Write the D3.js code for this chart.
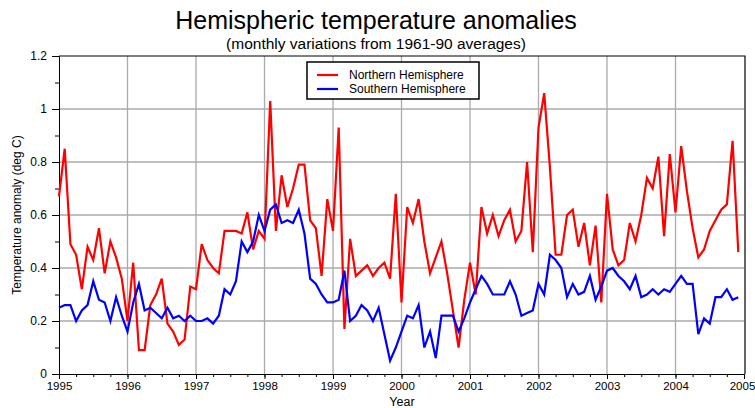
<!DOCTYPE html>
<html>
<head>
<meta charset="utf-8">
<script src="https://cdn.jsdelivr.net/npm/d3@7/dist/d3.min.js"></script>
<style>
  html, body { margin: 0; padding: 0; background: #fff; }
  svg { display: block; font-family: "Liberation Sans", Arial, sans-serif; }
</style>
</head>
<body>
<svg id="chart" width="755" height="408"></svg>
<script>
// Monthly anomalies (deg C, relative to 1961-90), January 1995 onward
const startYear = 1995;

const northern = [
  0.67, 0.85, 0.49, 0.45, 0.32, 0.48, 0.43, 0.55, 0.38, 0.50, 0.44, 0.36, // 1995
  0.20, 0.42, 0.09, 0.09, 0.26, 0.30, 0.36, 0.19, 0.16, 0.11, 0.13, 0.33, // 1996
  0.32, 0.49, 0.43, 0.40, 0.38, 0.54, 0.54, 0.54, 0.53, 0.61, 0.47, 0.54, // 1997
  0.51, 1.03, 0.54, 0.75, 0.63, 0.70, 0.79, 0.79, 0.58, 0.55, 0.37, 0.66, // 1998
  0.54, 0.93, 0.17, 0.51, 0.37, 0.39, 0.41, 0.37, 0.40, 0.42, 0.36, 0.68, // 1999
  0.27, 0.63, 0.57, 0.66, 0.50, 0.38, 0.44, 0.50, 0.38, 0.24, 0.10, 0.28, // 2000
  0.42, 0.30, 0.63, 0.53, 0.60, 0.52, 0.58, 0.62, 0.50, 0.54, 0.80, 0.46, // 2001
  0.93, 1.06, 0.78, 0.45, 0.45, 0.60, 0.62, 0.48, 0.57, 0.41, 0.56, 0.27, // 2002
  0.68, 0.47, 0.41, 0.43, 0.57, 0.50, 0.60, 0.74, 0.70, 0.82, 0.52, 0.83, // 2003
  0.61, 0.86, 0.69, 0.55, 0.44, 0.47, 0.54, 0.58, 0.62, 0.64, 0.88, 0.46  // 2004
];

const southern = [
  0.25, 0.26, 0.26, 0.20, 0.24, 0.26, 0.35, 0.28, 0.27, 0.20, 0.29, 0.22, // 1995
  0.16, 0.27, 0.34, 0.24, 0.25, 0.23, 0.21, 0.25, 0.21, 0.22, 0.20, 0.22, // 1996
  0.20, 0.20, 0.21, 0.19, 0.22, 0.32, 0.30, 0.35, 0.50, 0.46, 0.50, 0.60, // 1997
  0.54, 0.62, 0.64, 0.57, 0.58, 0.57, 0.62, 0.53, 0.36, 0.34, 0.30, 0.27, // 1998
  0.27, 0.28, 0.39, 0.20, 0.22, 0.26, 0.24, 0.20, 0.25, 0.15, 0.05, 0.10, // 1999
  0.16, 0.22, 0.21, 0.26, 0.10, 0.16, 0.06, 0.22, 0.22, 0.22, 0.16, 0.21, // 2000
  0.27, 0.32, 0.37, 0.34, 0.30, 0.30, 0.30, 0.35, 0.30, 0.22, 0.23, 0.24, // 2001
  0.34, 0.30, 0.45, 0.43, 0.40, 0.29, 0.34, 0.30, 0.31, 0.37, 0.28, 0.33, // 2002
  0.39, 0.40, 0.37, 0.35, 0.32, 0.37, 0.29, 0.30, 0.32, 0.30, 0.32, 0.31, // 2003
  0.34, 0.37, 0.34, 0.34, 0.15, 0.21, 0.19, 0.29, 0.29, 0.32, 0.28, 0.29  // 2004
];

const yearTicks = [1995, 1996, 1997, 1998, 1999, 2000, 2001, 2002, 2003, 2004, 2005];
const valueTicks = [0, 0.2, 0.4, 0.6, 0.8, 1, 1.2];
const seriesNames = ["Northern Hemisphere", "Southern Hemisphere"];
const seriesColors = ["#ff0000", "#0000ff"];

const svg = d3.select("#chart");
const plotLeft = 59, plotRight = 744, plotTop = 56, plotBottom = 374;

const x = d3.scaleLinear().domain([1995, 2005]).range([plotLeft, plotRight]);
const y = d3.scaleLinear().domain([0, 1.2]).range([plotBottom, plotTop]);

// Title block
svg.append("text").attr("x", 376).attr("y", 29)
  .attr("text-anchor", "middle").attr("font-size", 25)
  .text("Hemispheric temperature anomalies");
svg.append("text").attr("x", 376).attr("y", 49)
  .attr("text-anchor", "middle").attr("font-size", 15.5)
  .text("(monthly variations from 1961-90 averages)");

// Grid
const grid = svg.append("g").attr("stroke", "#aaaaaa").attr("stroke-width", 1.3);
grid.selectAll("line.v").data(yearTicks.slice(1, -1)).join("line")
  .attr("x1", d => x(d)).attr("x2", d => x(d))
  .attr("y1", plotTop).attr("y2", plotBottom);
grid.selectAll("line.h").data(valueTicks.slice(1, -1)).join("line")
  .attr("x1", plotLeft).attr("x2", plotRight)
  .attr("y1", d => y(d)).attr("y2", d => y(d));

// Frame: top and right edges
svg.append("path")
  .attr("d", `M${plotLeft},${plotTop}H${plotRight + 1}V${plotBottom}`)
  .attr("fill", "none").attr("stroke", "#000").attr("stroke-width", 1.2);

// Axes with minor ticks
const minorY = d3.range(0, 13).map(i => i / 10);
svg.append("g").attr("transform", `translate(${plotLeft},0)`)
  .call(d3.axisLeft(y).tickValues(minorY).tickSize(4).tickFormat(""))
  .call(g => g.select(".domain").remove());
svg.append("g").attr("transform", `translate(${plotLeft},0)`)
  .call(d3.axisLeft(y).tickValues(valueTicks).tickSize(7).tickPadding(5)
    .tickFormat(d3.format("~g")))
  .call(g => g.selectAll("text").attr("font-size", 12).attr("font-family", "Liberation Sans, Arial, sans-serif"));

const minorX = d3.range(0, 41).map(i => 1995 + i * 0.25);
svg.append("g").attr("transform", `translate(0,${plotBottom})`)
  .call(d3.axisBottom(x).tickValues(minorX).tickSize(3).tickFormat(""))
  .call(g => g.select(".domain").remove());
svg.append("g").attr("transform", `translate(0,${plotBottom})`)
  .call(d3.axisBottom(x).tickValues(yearTicks).tickSize(5).tickPadding(3)
    .tickFormat(d3.format("d")))
  .call(g => g.selectAll("text").attr("font-size", 11.5).attr("font-family", "Liberation Sans, Arial, sans-serif"))
  // keep the last year label inside the page edge
  .call(g => g.selectAll(".tick").filter(d => d === 2005).select("text").attr("dx", -2));

// Axis titles
svg.append("text").attr("x", 402).attr("y", 406)
  .attr("text-anchor", "middle").attr("font-size", 12.5).text("Year");
svg.append("text")
  .attr("transform", `translate(21,${(plotTop + plotBottom) / 2}) rotate(-90)`)
  .attr("text-anchor", "middle").attr("font-size", 12)
  .text("Temperature anomaly (deg C)");

// Series lines
const line = d3.line()
  .x((d, i) => x(startYear + i / 12))
  .y(d => y(d));
[northern, southern].forEach((vals, k) => {
  svg.append("path").datum(vals)
    .attr("fill", "none").attr("stroke", seriesColors[k])
    .attr("stroke-width", 2.2).attr("stroke-linejoin", "miter")
    .attr("d", line);
});

// Legend
const lg = svg.append("g").attr("transform", "translate(307,62)");
lg.append("rect").attr("width", 172).attr("height", 37)
  .attr("fill", "#fff").attr("stroke", "#000").attr("stroke-width", 1.5);
seriesNames.forEach((name, k) => {
  const yy = 13 + k * 14;
  lg.append("line").attr("x1", 10).attr("x2", 31).attr("y1", yy).attr("y2", yy)
    .attr("stroke", seriesColors[k]).attr("stroke-width", 2.2);
  lg.append("text").attr("x", 42).attr("y", yy + 4)
    .attr("font-size", 12).text(name);
});
</script>
</body>
</html>
